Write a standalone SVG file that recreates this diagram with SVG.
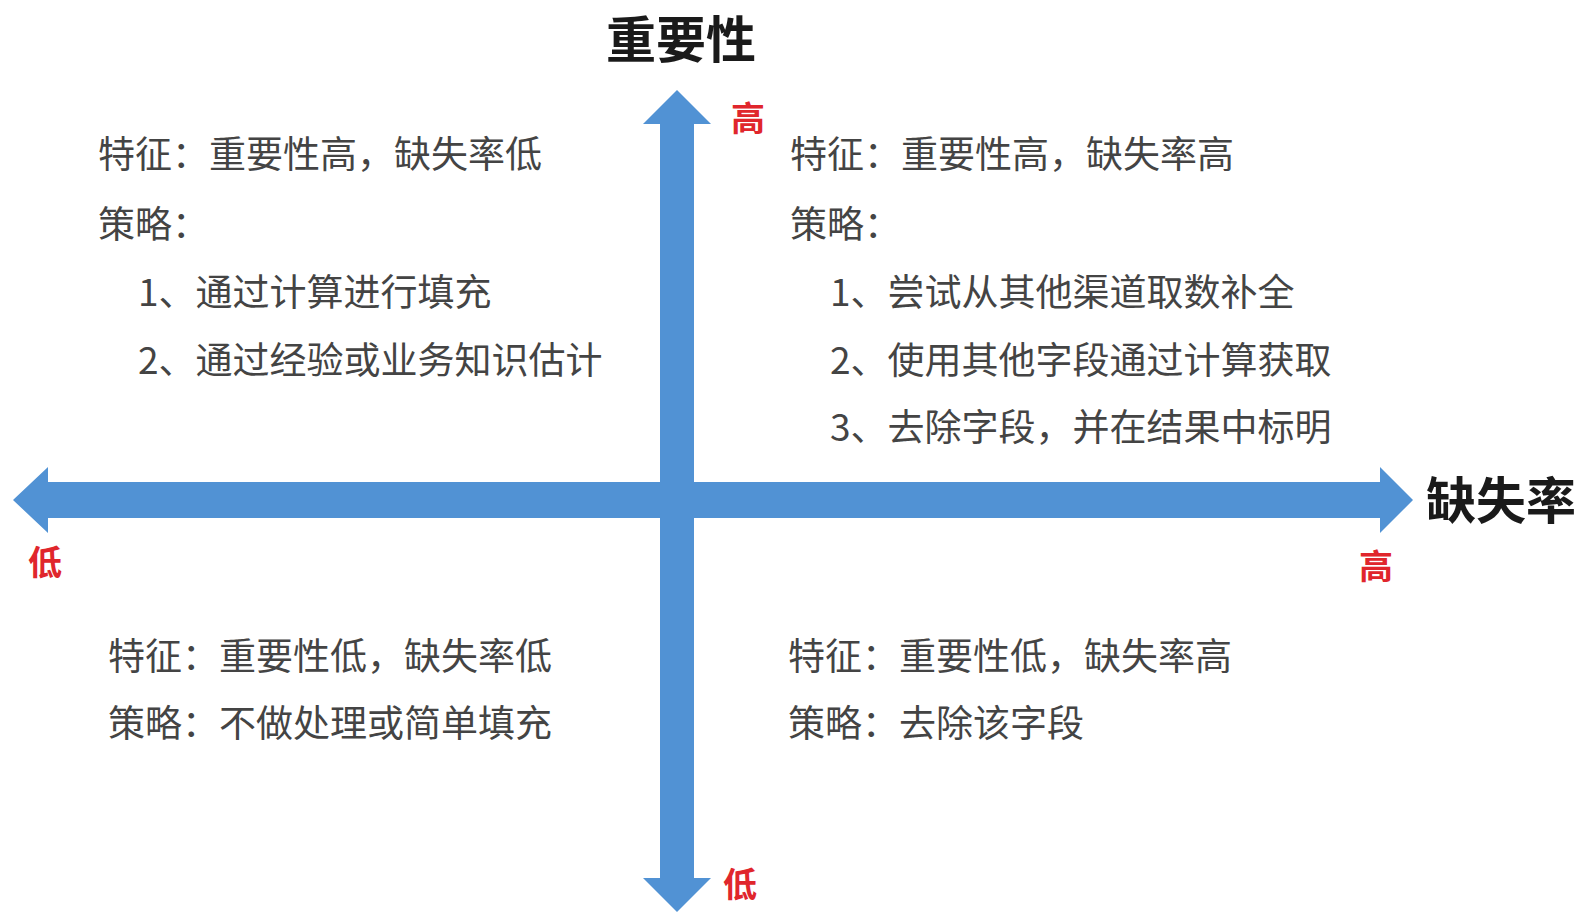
<svg xmlns="http://www.w3.org/2000/svg" width="1579" height="912" viewBox="0 0 1579 912">
<style>
.axis{fill:#5192d4}
.title{font-family:"Noto Sans CJK SC","Liberation Sans",sans-serif;font-weight:bold;font-size:50px;fill:#1a1a1a}
.lvl{font-family:"Noto Sans CJK SC","Liberation Sans",sans-serif;font-weight:bold;font-size:34px;fill:#e0262c}
.body{font-family:"Noto Sans CJK SC","Liberation Sans",sans-serif;font-size:37px;fill:#444444}
</style>
<rect width="1579" height="912" fill="#ffffff"/>
<g id="axes">
<polygon class="axis" points="677,90 711,124 694,124 694,878 711,878 677,912 643,878 660,878 660,124 643,124"/>
<polygon class="axis" points="13,500 48,467 48,482 1380,482 1380,467 1413,500 1380,533 1380,518 48,518 48,533"/>
</g>
<g id="axis-labels">
<text class="title" x="681" y="58" text-anchor="middle">重要性</text>
<text class="title" x="1426" y="519">缺失率</text>
<text class="lvl" x="748" y="131" text-anchor="middle">高</text>
<text class="lvl" x="45" y="575" text-anchor="middle">低</text>
<text class="lvl" x="1376" y="579" text-anchor="middle">高</text>
<text class="lvl" x="740" y="897" text-anchor="middle">低</text>
</g>
<g id="q-top-left">
<text class="body" x="98" y="168">特征：重要性高，缺失率低</text>
<text class="body" x="98" y="238">策略：</text>
<text class="body" x="138" y="306">1、通过计算进行填充</text>
<text class="body" x="138" y="374">2、通过经验或业务知识估计</text>
</g>
<g id="q-top-right">
<text class="body" x="790" y="168">特征：重要性高，缺失率高</text>
<text class="body" x="790" y="238">策略：</text>
<text class="body" x="830" y="306">1、尝试从其他渠道取数补全</text>
<text class="body" x="830" y="374">2、使用其他字段通过计算获取</text>
<text class="body" x="830" y="441">3、去除字段，并在结果中标明</text>
</g>
<g id="q-bottom-left">
<text class="body" x="108" y="670">特征：重要性低，缺失率低</text>
<text class="body" x="108" y="737">策略：不做处理或简单填充</text>
</g>
<g id="q-bottom-right">
<text class="body" x="788" y="670">特征：重要性低，缺失率高</text>
<text class="body" x="788" y="737">策略：去除该字段</text>
</g>
</svg>
